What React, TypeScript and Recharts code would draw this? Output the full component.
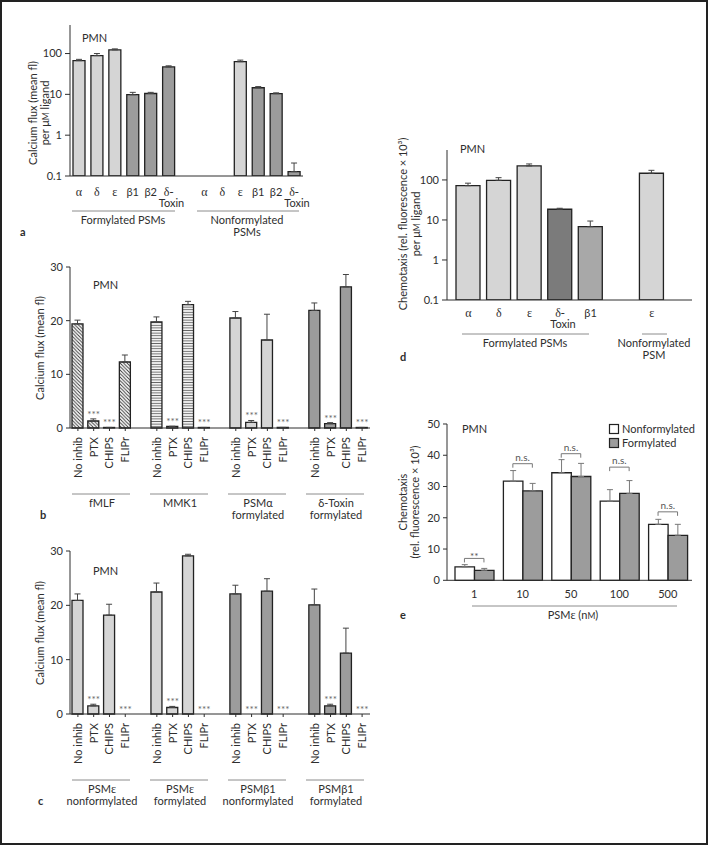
import React from "react";
import { ComposedChart, Bar, Line, XAxis, YAxis, ErrorBar, Cell } from "recharts";

const FONT = "Lato, 'Open Sans', sans-serif";
const SERIF = "'Liberation Serif', 'DejaVu Serif', serif";
const INK = "#2e2e2e";
const RULE = "#8c8c8c";
const LIGHT = "#d5d5d5";
const MID = "#a8a8a8";
const DARK = "#9c9c9c";
const DARKEST = "#7b7b7b";

// a: calcium flux per µM ligand, log scale
const aPeptides = ["α", "δ", "ε", "β1", "β2", "δ-Toxin"];
const aFormyl = [67, 89, 123, 9.8, 10.5, 47];
const aFormylErr = [5, 11, 7, 1.4, 0.7, 3];
const aNonformyl = [null, null, 63, 14.5, 10.4, 0.128];
const aNonformylErr = [0, 0, 6, 1, 0.5, 0.08];
const aTicks = [0.1, 1, 10, 100];

// b + c: inhibitor panels
const inhibitors = ["No inhib", "PTX", "CHIPS", "FLIPr"];
const bStimuli = ["fMLF", "MMK1", "PSMα formylated", "δ-Toxin formylated"];
const bFlux = [
  [19.4, 1.3, 0.1, 12.3],
  [19.75, 0.3, 23.0, 0.1],
  [20.5, 1.05, 16.4, 0.1],
  [21.9, 0.8, 26.3, 0.1],
];
const bFluxErr = [
  [0.7, 0.4, 0, 1.3],
  [0.95, 0, 0.6, 0],
  [1.2, 0.35, 4.8, 0],
  [1.4, 0.2, 2.3, 0],
];
const bStars = [
  [false, true, true, false],
  [false, true, false, true],
  [false, true, false, true],
  [false, true, false, true],
];

const cStimuli = ["PSMε nonformylated", "PSMε formylated", "PSMβ1 nonformylated", "PSMβ1 formylated"];
const cFlux = [
  [20.9, 1.5, 18.2, 0],
  [22.45, 1.2, 29.1, 0],
  [22.1, 0, 22.6, 0],
  [20.1, 1.5, 11.2, 0],
];
const cFluxErr = [
  [1.2, 0.3, 2.0, 0],
  [1.65, 0.2, 0.3, 0],
  [1.6, 0, 2.3, 0],
  [2.9, 0.3, 4.6, 0],
];
const cStars = [
  [false, true, false, true],
  [false, true, false, true],
  [false, true, false, true],
  [false, true, false, true],
];
const fluxTicks = [0, 10, 20, 30];

// d: chemotaxis per µM ligand, log scale
const dPeptides = ["α", "δ", "ε", "δ-Toxin", "β1"];
const dFormyl = [72, 98, 224, 18.5, 6.8];
const dFormylErr = [11, 16, 27, 1.1, 2.6];
const dNonPeptides = ["ε"];
const dNonformyl = [147];
const dNonformylErr = [27];

// e: chemotaxis vs dose
const doses = ["1", "10", "50", "100", "500"];
const eNonform = [4.3, 31.7, 34.4, 25.3, 17.9];
const eNonformErr = [0.7, 3.4, 4.2, 3.7, 1.6];
const eFormyl = [3.2, 28.6, 33.2, 27.8, 14.4];
const eFormylErr = [0.6, 2.4, 4.2, 4.1, 3.5];
const eSig = ["**", "n.s.", "n.s.", "n.s.", "n.s."];
const eBracket = [7.0, 37.3, 40.5, 36.2, 21.9];
const eTicks = [0, 10, 20, 30, 40, 50];

type Box = { x0: number; y0: number; x1: number; y1: number };
const YW = 40;
const XH = 70;
const PAD = 8;

function frame(b: Box) {
  return {
    style: { position: "absolute" as const, left: b.x0 - YW, top: b.y0 - PAD },
    width: b.x1 - b.x0 + YW + PAD,
    height: b.y1 - b.y0 + PAD + XH,
    margin: { top: PAD, right: PAD, left: 0, bottom: 0 },
  };
}

const A_BOX = { x0: 70, y0: 25, x1: 303, y1: 176 };
const B_BOX = { x0: 70, y0: 267.3, x1: 370, y1: 428.3 };
const C_BOX = { x0: 70, y0: 551.3, x1: 370, y1: 714.3 };
const D_BOX = { x0: 447, y0: 150, x1: 692, y1: 300 };
const E_BOX = { x0: 447, y0: 424, x1: 692, y1: 580.3 };
const BAR_E = 19.5;

type Row = { key: string; label: string; v: number | null; err: [number, number]; star: number | null; group: number };

function logRows(formCats: string[], form: (number | null)[], formErr: number[], nonCats: string[], non: (number | null)[], nonErr: number[]): Row[] {
  const rows: Row[] = formCats.map((label, i) => ({ key: "f" + i, label, v: form[i], err: [0, formErr[i]], star: null, group: 0 }));
  rows.push({ key: "gap", label: "", v: null, err: [0, 0], star: null, group: -1 });
  nonCats.forEach((label, i) => rows.push({ key: "n" + i, label, v: non[i], err: [0, nonErr[i]], star: null, group: 1 }));
  return rows;
}

function inhibRows(values: number[][], errs: number[][], stars: boolean[][]): Row[] {
  const rows: Row[] = [];
  values.forEach((grp, g) => {
    if (g > 0) rows.push({ key: "gap" + g, label: "", v: null, err: [0, 0], star: null, group: -1 });
    grp.forEach((v, i) =>
      rows.push({ key: `g${g}-${i}`, label: inhibitors[i], v, err: [0, errs[g][i]], star: stars[g][i] ? v + errs[g][i] : null, group: g })
    );
  });
  return rows;
}

const rowsA = logRows(aPeptides, aFormyl, aFormylErr, aPeptides, aNonformyl, aNonformylErr);
const rowsB = inhibRows(bFlux, bFluxErr, bStars);
const rowsC = inhibRows(cFlux, cFluxErr, cStars);
const rowsD = logRows(dPeptides, dFormyl, dFormylErr, dNonPeptides, dNonformyl, dNonformylErr);
const rowsE = doses.map((dose, i) => ({
  dose,
  nf: eNonform[i],
  nfErr: [0, eNonformErr[i]],
  f: eFormyl[i],
  fErr: [0, eFormylErr[i]],
  br: eBracket[i],
  sig: eSig[i],
}));

const labelOf = (rows: Row[]) => Object.fromEntries(rows.map((r) => [r.key, r.label]));

function flatTick(rows: Row[], dy: number) {
  const lookup = labelOf(rows);
  return (p: any) => {
    const label = lookup[p.payload.value] ?? "";
    if (!label) return <g />;
    const toxin = label.endsWith("-Toxin");
    const head = toxin ? label.replace("Toxin", "") : label;
    const greek = /^[αδε]-?$/.test(head);
    return (
      <g>
        <text x={p.x} y={p.y + dy} textAnchor="middle" fontSize={greek ? 12 : 11} fontFamily={greek ? SERIF : FONT} fill={INK}>
          {head}
        </text>
        {toxin && (
          <text x={p.x + 3} y={p.y + dy + 11} textAnchor="middle" fontSize={11} fontFamily={FONT} fill={INK}>
            Toxin
          </text>
        )}
      </g>
    );
  };
}

function rotTick(rows: Row[]) {
  const lookup = labelOf(rows);
  return (p: any) => {
    const label = lookup[p.payload.value] ?? "";
    if (!label) return <g />;
    return (
      <g>
        <line x1={p.x} x2={p.x} y1={p.y} y2={p.y + 3} stroke={INK} />
        <text transform={`translate(${p.x + 4},${p.y + 9}) rotate(-90)`} textAnchor="end" fontSize={11} fontFamily={FONT} fill={INK}>
          {label}
        </text>
      </g>
    );
  };
}

const starDot = (p: any) => {
  const { cx, cy, payload, index } = p;
  if (cy == null || payload == null || payload.star == null) return <g key={index} />;
  return (
    <text key={index} x={cx} y={cy - 1} textAnchor="middle" fontSize={10} fill="#666" fontFamily={FONT}>
      ***
    </text>
  );
};

const bracketDot = (p: any) => {
  const { cx, cy, payload, index } = p;
  if (cy == null) return <g key={index} />;
  const h = BAR_E / 2;
  return (
    <g key={index}>
      <path d={`M${cx - h},${cy + 4}V${cy}H${cx + h}V${cy + 4}`} fill="none" stroke="#777" strokeWidth={1} />
      <text x={cx} y={payload.sig === "**" ? cy + 1.5 : cy - 3} textAnchor="middle" fontSize={10} fill="#555" fontFamily={FONT}>
        {payload.sig}
      </text>
    </g>
  );
};

const yTick = { fontSize: 11, fill: INK, fontFamily: FONT };

function LogPanel({ box, rows, top, fillOf, barSize, dy, padding }: any) {
  const f = frame(box);
  return (
    <div style={f.style}>
      <ComposedChart width={f.width} height={f.height} margin={f.margin} data={rows}>
        <XAxis dataKey="key" type="category" height={XH} stroke={INK} tickLine={false} tickSize={0} tickMargin={0} interval={0} padding={padding} tick={flatTick(rows, dy)} />
        <YAxis type="number" scale="log" domain={[0.1, top]} ticks={aTicks} allowDataOverflow width={YW} stroke={INK} tickSize={5} tickMargin={3} tick={yTick} tickFormatter={(v: number) => String(v)} />
        <Bar dataKey="v" barSize={barSize} stroke="#222" strokeWidth={1.3} isAnimationActive={false}>
          {rows.map((r: Row) => (
            <Cell key={r.key} fill={fillOf(r)} />
          ))}
          <ErrorBar dataKey="err" width={3} stroke="#444" strokeWidth={1} direction="y" />
        </Bar>
      </ComposedChart>
    </div>
  );
}

function InhibPanel({ box, rows, fills, withPatterns }: any) {
  const f = frame(box);
  return (
    <div style={f.style}>
      <ComposedChart width={f.width} height={f.height} margin={f.margin} data={rows}>
        {withPatterns && (
          <defs>
            <pattern id="hatch" patternUnits="userSpaceOnUse" width="3.5" height="3.5">
              <rect width="3.5" height="3.5" fill="#fff" />
              <path d="M-1,-1L4.5,4.5M-1,2.5L1,4.5M2.5,-1L4.5,1" stroke="#333" strokeWidth="0.9" />
            </pattern>
            <pattern id="stripes" patternUnits="userSpaceOnUse" width="4" height="2.6">
              <rect width="4" height="2.6" fill="#f2f2f2" />
              <line x1="0" x2="4" y1="1.3" y2="1.3" stroke="#666" strokeWidth="0.9" />
            </pattern>
          </defs>
        )}
        <XAxis dataKey="key" type="category" height={XH} stroke={INK} tickLine={false} tickSize={0} tickMargin={0} interval={0} tick={rotTick(rows)} />
        <YAxis type="number" domain={[0, 30]} ticks={fluxTicks} width={YW} stroke={INK} tickSize={4} tickMargin={3} tick={yTick} />
        <Bar dataKey="v" barSize={11} stroke="#222" strokeWidth={1.3} isAnimationActive={false}>
          {rows.map((r: Row) => (
            <Cell key={r.key} fill={r.group >= 0 ? fills[r.group] : "none"} />
          ))}
          <ErrorBar dataKey="err" width={3} stroke="#444" strokeWidth={1} direction="y" />
        </Bar>
        <Line dataKey="star" stroke="none" dot={starDot} activeDot={false} isAnimationActive={false} />
      </ComposedChart>
    </div>
  );
}

function DosePanel() {
  const f = frame(E_BOX);
  return (
    <div style={f.style}>
      <ComposedChart width={f.width} height={f.height} margin={f.margin} data={rowsE} barGap={0}>
        <XAxis dataKey="dose" type="category" height={XH} stroke={INK} tickLine={false} tickSize={0} tickMargin={0} padding={{ left: 3, right: 0 }}
          tick={(p: any) => (
            <text x={p.x} y={p.y + 18} textAnchor="middle" fontSize={11} fontFamily={FONT} fill={INK}>
              {p.payload.value}
            </text>
          )}
        />
        <YAxis type="number" domain={[0, 50]} ticks={eTicks} width={YW} stroke={INK} tickSize={4} tickMargin={3} tick={yTick} />
        <Bar dataKey="nf" barSize={BAR_E} fill="#fff" stroke="#222" strokeWidth={1.3} isAnimationActive={false}>
          <ErrorBar dataKey="nfErr" width={3} stroke="#777" strokeWidth={1} direction="y" />
        </Bar>
        <Bar dataKey="f" barSize={BAR_E} fill={DARK} stroke="#222" strokeWidth={1.3} isAnimationActive={false}>
          <ErrorBar dataKey="fErr" width={3} stroke="#777" strokeWidth={1} direction="y" />
        </Bar>
        <Line dataKey="br" stroke="none" dot={bracketDot} activeDot={false} isAnimationActive={false} />
      </ComposedChart>
    </div>
  );
}

const T = (p: any) => <text fontSize={11} fontFamily={FONT} fill={INK} {...p} />;
const Greek = ({ children }: any) => <tspan fontFamily={SERIF} fontSize={12}>{children}</tspan>;
const SmallM = () => <tspan fontSize={8.5}>M</tspan>;

function GroupLabel({ x, y, lines, from, to, ruleY }: any) {
  return (
    <g>
      <line x1={from} x2={to} y1={ruleY} y2={ruleY} stroke={RULE} strokeWidth={1} />
      {lines.map((l: any, i: number) => (
        <T key={i} x={x} y={y + i * 12} textAnchor="middle">
          {l}
        </T>
      ))}
    </g>
  );
}

function Overlay() {
  const bCenters = [102, 180, 258, 336];
  const bLines: any[] = [["fMLF"], ["MMK1"], [<>PSMα</>, "formylated"], ["δ-Toxin", "formylated"]];
  const cLines: any[] = [
    [<>PSM<Greek>ε</Greek></>, "nonformylated"],
    [<>PSM<Greek>ε</Greek></>, "formylated"],
    ["PSMβ1", "nonformylated"],
    ["PSMβ1", "formylated"],
  ];
  return (
    <svg width={709} height={845} style={{ position: "absolute", left: 0, top: 0, pointerEvents: "none" }}>
      <rect x={1} y={1} width={706} height={843} fill="none" stroke="#222" strokeWidth={2} />

      {/* a */}
      <T x={82} y={42}>PMN</T>
      <T transform="translate(37,113) rotate(-90)" textAnchor="middle">Calcium flux (mean fl)</T>
      <T transform="translate(49,113) rotate(-90)" textAnchor="middle">per μ<SmallM /> ligand</T>
      <GroupLabel x={123} y={224} lines={["Formylated PSMs"]} from={72} to={175} ruleY={211} />
      <GroupLabel x={247} y={224} lines={["Nonformylated", "PSMs"]} from={197} to={299} ruleY={211} />
      <T x={20} y={236} fontWeight="bold">a</T>

      {/* b */}
      <T x={93} y={289}>PMN</T>
      <T transform="translate(44,348) rotate(-90)" textAnchor="middle">Calcium flux (mean fl)</T>
      {bCenters.map((c, i) => (
        <GroupLabel key={i} x={c} y={507} lines={bLines[i]} from={c - 30} to={c + 28} ruleY={494} />
      ))}
      <T x={40} y={519} fontWeight="bold">b</T>

      {/* c */}
      <T x={93} y={575}>PMN</T>
      <T transform="translate(44,633) rotate(-90)" textAnchor="middle">Calcium flux (mean fl)</T>
      {bCenters.map((c, i) => (
        <GroupLabel key={i} x={c} y={793} lines={cLines[i]} from={c - 30} to={c + 28} ruleY={780} />
      ))}
      <T x={38} y={805} fontWeight="bold">c</T>

      {/* d */}
      <T x={460} y={153}>PMN</T>
      <T transform="translate(407,224) rotate(-90)" textAnchor="middle">Chemotaxis (rel. fluorescence × 10³)</T>
      <T transform="translate(420,224) rotate(-90)" textAnchor="middle">per μ<SmallM /> ligand</T>
      <GroupLabel x={525} y={347} lines={["Formylated PSMs"]} from={462} to={589} ruleY={334} />
      <GroupLabel x={654} y={347} lines={["Nonformylated", "PSM"]} from={642} to={667} ruleY={334} />
      <T x={400} y={361} fontWeight="bold">d</T>

      {/* e */}
      <T x={462} y={433}>PMN</T>
      <T transform="translate(407,502) rotate(-90)" textAnchor="middle">Chemotaxis</T>
      <T transform="translate(419,502) rotate(-90)" textAnchor="middle">(rel. fluorescence × 10³)</T>
      <rect x={609.5} y={424.5} width={9} height={9} fill="#fff" stroke="#222" strokeWidth={1.2} />
      <rect x={609.5} y={438.5} width={9} height={9} fill={DARK} stroke="#222" strokeWidth={1.2} />
      <T x={622} y={433}>Nonformylated</T>
      <T x={622} y={447}>Formylated</T>
      <GroupLabel x={573} y={619} lines={[<>PSM<Greek>ε</Greek> (n<SmallM />)</>]} from={472} to={677} ruleY={606} />
      <T x={400} y={619} fontWeight="bold">e</T>
    </svg>
  );
}

const darkA = new Set(["β1", "β2", "δ-Toxin"]);
const fillA = (r: Row) => (darkA.has(r.label) ? DARK : LIGHT);
const fillD = (r: Row) => (r.label === "δ-Toxin" ? DARKEST : r.label === "β1" ? MID : LIGHT);

export default function App() {
  return (
    <div style={{ position: "absolute", left: 0, top: 0, width: 709, height: 845, background: "#fff", fontFamily: FONT }}>
      <LogPanel box={A_BOX} rows={rowsA} top={500} fillOf={fillA} barSize={12} dy={20} padding={{ left: 0, right: 0 }} />
      <InhibPanel box={B_BOX} rows={rowsB} fills={["url(#hatch)", "url(#stripes)", LIGHT, DARK]} withPatterns />
      <InhibPanel box={C_BOX} rows={rowsC} fills={[LIGHT, LIGHT, DARK, DARK]} />
      <LogPanel box={D_BOX} rows={rowsD} top={560} fillOf={fillD} barSize={24} dy={17} padding={{ left: 6, right: 25 }} />
      <DosePanel />
      <Overlay />
    </div>
  );
}
